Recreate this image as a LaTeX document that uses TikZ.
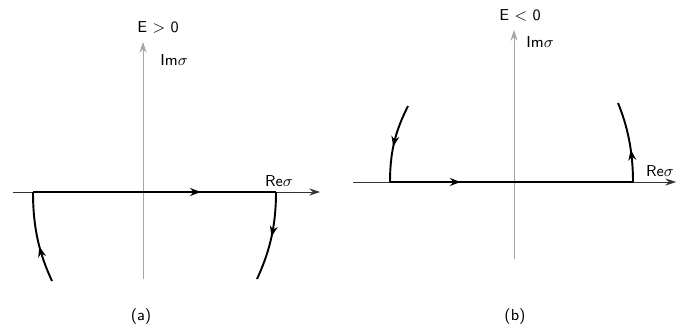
\documentclass[tikz,border=0pt]{standalone}
\usepackage{amsmath}
\usepackage{tikz}
\usetikzlibrary{arrows.meta, decorations.markings}

\begin{document}
\begin{tikzpicture}[x=0.02cm, y=-0.02cm,
    axis/.style={gray!70, line width=0.5pt},
    contour/.style={line width=1.1pt},
    midarrow/.style={postaction={decorate, decoration={markings,
        mark=at position #1 with {\arrow{Stealth[length=6pt, width=4.5pt]}}}}},
    lbl/.style={font=\sffamily\fontsize{9}{10}\selectfont, inner sep=1pt}]
  \useasboundingbox (0,0) rectangle (686,331);

  % (a) E > 0
  \coordinate (oa) at (143,192);
  \draw[axis, -{Stealth[length=6pt, width=4pt]}, black!80] (13,192) -- (320,192);
  \draw[axis, -{Stealth[length=6pt, width=4pt]}] (143,279) -- (143,42);
  \node[lbl] (Ea) at (158,27) {E > 0};
  \node[lbl] (Ima) at (174,60) {Im$\sigma$};
  \node[lbl] (Rea) at (279,181) {Re$\sigma$};
  \draw[contour, midarrow=0.4] (52,281) .. controls (40,255) and (33,230) .. (33,192);
  \draw[contour, midarrow=0.69] (33,192) -- (276,192);
  \draw[contour, midarrow=0.5] (276,192) .. controls (276,230) and (268,255) .. (257,279);
  \node[lbl] (capa) at (141,317) {(a)};

  % (b) E < 0
  \coordinate (ob) at (514,182);
  \draw[axis, -{Stealth[length=6pt, width=4pt]}, black!80] (353,182) -- (676,182);
  \draw[axis, -{Stealth[length=6pt, width=4pt]}] (514,259) -- (514,30);
  \node[lbl] (Eb) at (520,15) {E < 0};
  \node[lbl] (Imb) at (540,42) {Im$\sigma$};
  \node[lbl] (Reb) at (660,171) {Re$\sigma$};
  \draw[contour, midarrow=0.55] (408,106) .. controls (396,130) and (390,150) .. (390,182);
  \draw[contour, midarrow=0.29] (390,182) -- (633,182);
  \draw[contour, midarrow=0.4] (633,182) .. controls (633,150) and (627,125) .. (618,103);
  \node[lbl] (capb) at (515,317) {(b)};
\end{tikzpicture}
\end{document}
